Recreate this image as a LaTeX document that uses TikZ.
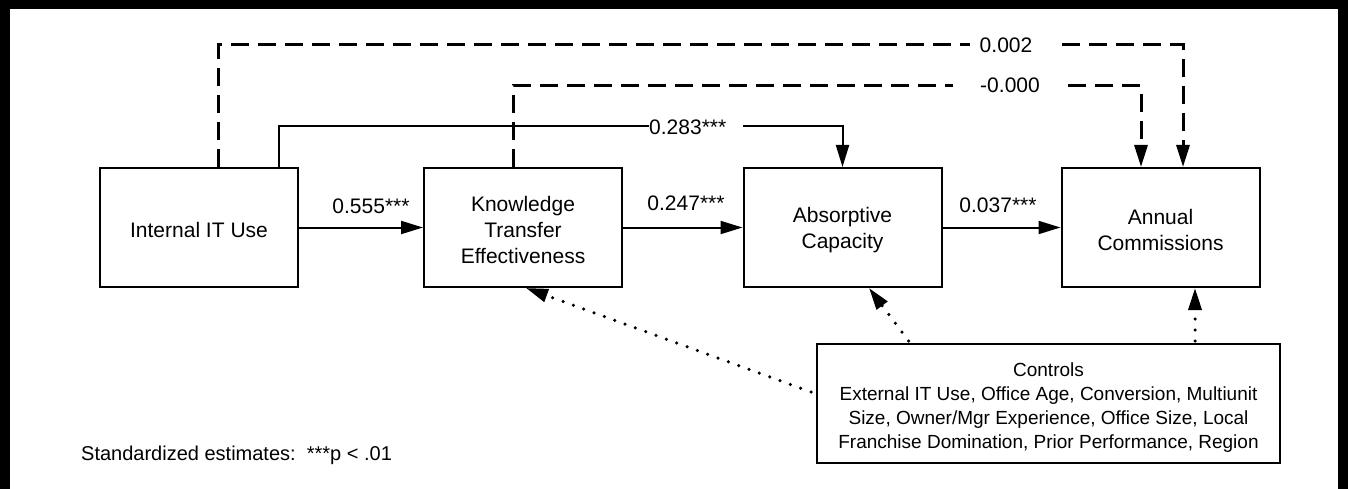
\documentclass[tikz,border=0pt]{standalone}
\usepackage{fontspec}
\setmainfont{Liberation Sans}
\usetikzlibrary{arrows.meta}
% raises the first line of a box so the text block sits a little lower
\newcommand{\firstlinestrut}[1]{\rule{0pt}{#1}}
\begin{document}
\begin{tikzpicture}[x=1pt,y=-1pt,
  var/.style={draw, line width=2pt, minimum width=198pt, minimum height=119pt,
    align=center, inner sep=0pt, font=\fontsize{21}{26}\selectfont},
  ctrl/.style={draw, line width=2pt, minimum width=463pt, minimum height=119pt,
    align=center, inner sep=0pt, font=\fontsize{19}{24.2}\selectfont},
  est/.style={inner sep=0pt, font=\fontsize{21}{26}\selectfont},
  tip/.style={-{Triangle[length=22pt,width=13pt]}},
  solidpath/.style={line width=2pt},
  dashpath/.style={line width=3pt, dash pattern=on 18pt off 9pt},
  dotpath/.style={line width=3.5pt, line cap=round, dash pattern=on 0pt off 11pt},
]
\useasboundingbox (0,0) rectangle (1348,489);

% outer frame (open at the bottom)
\draw[line width=10pt, line join=miter] (5,489) -- (5,4) -- (1343,4) -- (1343,489);

% constructs
\node[var] (itu) at (199,227.5) {\firstlinestrut{20pt}Internal IT Use};
\node[var] (kte) at (523,227.5) {\firstlinestrut{20pt}Knowledge\\Transfer\\Effectiveness};
\node[var] (abs) at (842.5,227.5) {\firstlinestrut{20pt}Absorptive\\Capacity};
\node[var] (ann) at (1160.5,227.5) {\firstlinestrut{20pt}Annual\\Commissions};
\node[ctrl] (ctl) at (1048.5,403.5) {\firstlinestrut{22pt}Controls\\External IT Use, Office Age, Conversion, Multiunit\\Size, Owner/Mgr Experience, Office Size, Local\\Franchise Domination, Prior Performance, Region};

% direct paths
\draw[solidpath, tip] (itu.east) -- (kte.west);
\draw[solidpath, tip] (kte.east) -- (abs.west);
\draw[solidpath, tip] (abs.east) -- (ann.west);
\node[est, anchor=base] (e1) at (371,213) {0.555***};
\node[est, anchor=base] (e2) at (686,211) {0.247***};
\node[est, anchor=base] (e3) at (998,212) {0.037***};

% Internal IT Use -> Absorptive Capacity
\node[est, anchor=base west] (e4) at (649,135) {0.283***};
\coordinate (e4r) at (743,126);
\draw[solidpath] ([xshift=80pt]itu.north) |- (e4.west |- e4r);
\draw[solidpath, tip] (e4r) -| (abs.north);

% Internal IT Use -> Annual Commissions
\node[est, anchor=base] (e5) at (1006,53) {0.002};
\coordinate (e5l) at (970,45);
\coordinate (e5r) at (1062,45);
\draw[dashpath] ([xshift=19pt]itu.north) |- (e5l);
\draw[dashpath, tip] (e5r) -| ([xshift=22.5pt]ann.north);

% Knowledge Transfer Effectiveness -> Annual Commissions
\node[est, anchor=base] (e6) at (1010,93) {-0.000};
\coordinate (e6l) at (953,86);
\coordinate (e6r) at (1068,86);
\draw[dashpath] ([xshift=-10pt]kte.north) |- (e6l);
\draw[dashpath, tip] (e6r) -| ([xshift=-19.5pt]ann.north);

% control variables
\draw[dotpath, tip] ([xshift=-5pt,yshift=11.5pt]ctl.west) -- ([xshift=3pt]kte.south);
\draw[dotpath, tip] ([xshift=-140pt,yshift=2pt]ctl.north) -- ([xshift=26.5pt]abs.south);
\draw[dotpath, tip] ([xshift=146.5pt,yshift=2pt]ctl.north) -- ([xshift=34.5pt]ann.south);

% note
\node[inner sep=0pt, anchor=base west, font=\fontsize{20}{24}\selectfont] (note) at (81,460)
  {Standardized estimates:~~***p < .01};
\end{tikzpicture}
\end{document}
